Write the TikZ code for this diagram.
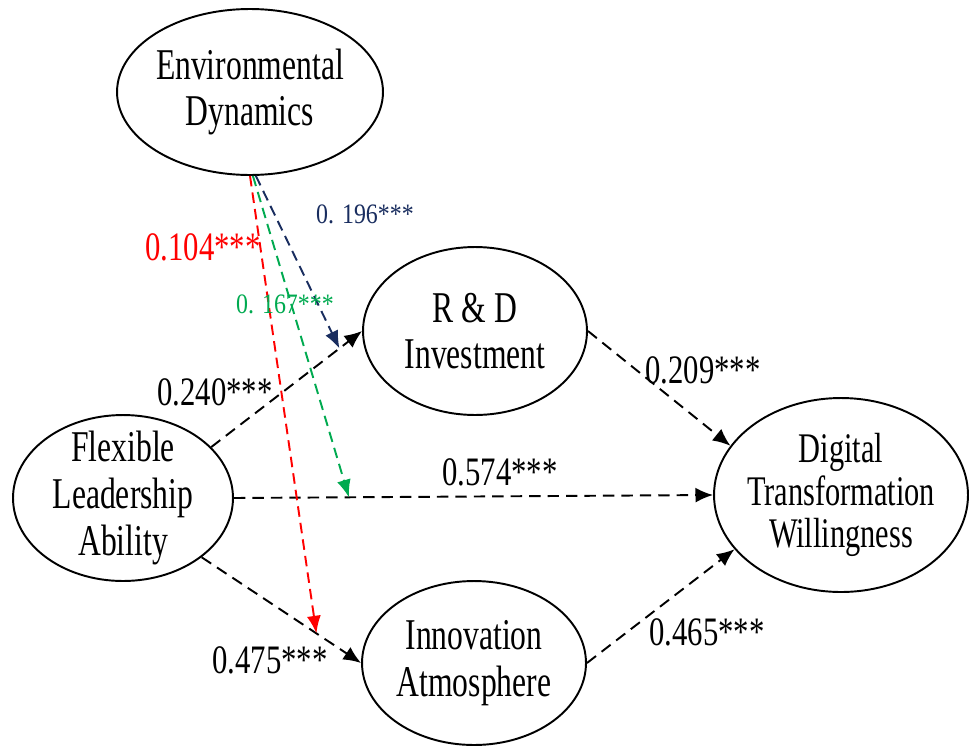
\documentclass[tikz,border=0pt]{standalone}
\usepackage{fontspec}
\setmainfont{Liberation Serif}
\newfontfamily\latentfont[FakeStretch=0.72]{Liberation Serif}
\newfontfamily\coeffont[FakeStretch=0.76]{Liberation Serif}
\newfontfamily\modfont[FakeStretch=0.85]{Liberation Serif}
\usetikzlibrary{shapes.geometric,arrows.meta}
\definecolor{modred}{RGB}{255,0,0}
\definecolor{modgreen}{RGB}{0,170,80}
\definecolor{modnavy}{RGB}{25,45,95}
\begin{document}
\begin{tikzpicture}[x=0.02cm,y=-0.02cm,
  latent/.style={ellipse,draw,line width=1.1pt,inner sep=-8pt,align=center,font=\fontsize{25}{26.5}\latentfont},
  effect/.style={line width=1.1pt,dash pattern=on 6.5pt off 4pt,-{Latex[length=10pt,width=8.5pt]}},
  modeffect/.style={line width=1.1pt,dash pattern=on 6pt off 3.5pt,-{Latex[length=10pt,width=8pt]}},
  coef/.style={anchor=base,font=\fontsize{23}{25}\coeffont},
  modcoef/.style={anchor=base,font=\fontsize{16}{18}\modfont}]
\useasboundingbox (0,0) rectangle (972,747);
\node [latent,minimum width=5.32cm,minimum height=3.32cm] (env) at (250,92) {Environmental\\Dynamics};
\node [latent,minimum width=4.48cm,minimum height=3.36cm] (rd) at (475,331) {R \& D\\Investment};
\node [latent,minimum width=4.4cm,minimum height=3.32cm] (flex) at (123,498) {Flexible\\Leadership\\Ability};
\node [latent,minimum width=5.08cm,minimum height=3.88cm,font=\fontsize{24}{24}\latentfont] (dtw) at (841,495) {Digital\\Transformation\\Willingness};
\node [latent,minimum width=4.48cm,minimum height=3.28cm] (innov) at (474,663) {Innovation\\Atmosphere};
\draw [effect] (flex.30) -- (rd.west);
\draw [effect] (flex.east) -- (dtw.west);
\draw [effect] (flex.-37) -- (innov.west);
\draw [effect] (rd.east) -- (dtw.156);
\draw [effect] (innov.east) -- (dtw.207);
\path (flex.30) -- (rd.west) coordinate [pos=0.85] (rdmod);
\path (flex.east) -- (dtw.west) coordinate [pos=0.24] (dtwmod);
\path (flex.-37) -- (innov.west) coordinate [pos=0.72] (innovmod);
\draw [modeffect,modred] (env.-90) -- (innovmod);
\draw [modeffect,modgreen] (env.-88) -- (dtwmod);
\draw [modeffect,modnavy] (env.-86) -- (rdmod);
\node [coef,text=modred] (c104) at (203,260) {0.104***};
\node [modcoef,text=modnavy] (c196) at (365,223) {0. 196***};
\node [modcoef,text=modgreen] (c167) at (285,313) {0. 167***};
\node [coef] (c240) at (215,405) {0.240***};
\node [coef] (c574) at (500,485) {0.574***};
\node [coef] (c209) at (703,383) {0.209***};
\node [coef] (c465) at (707,645) {0.465***};
\node [coef] (c475) at (270,673) {0.475***};
\end{tikzpicture}
\end{document}
